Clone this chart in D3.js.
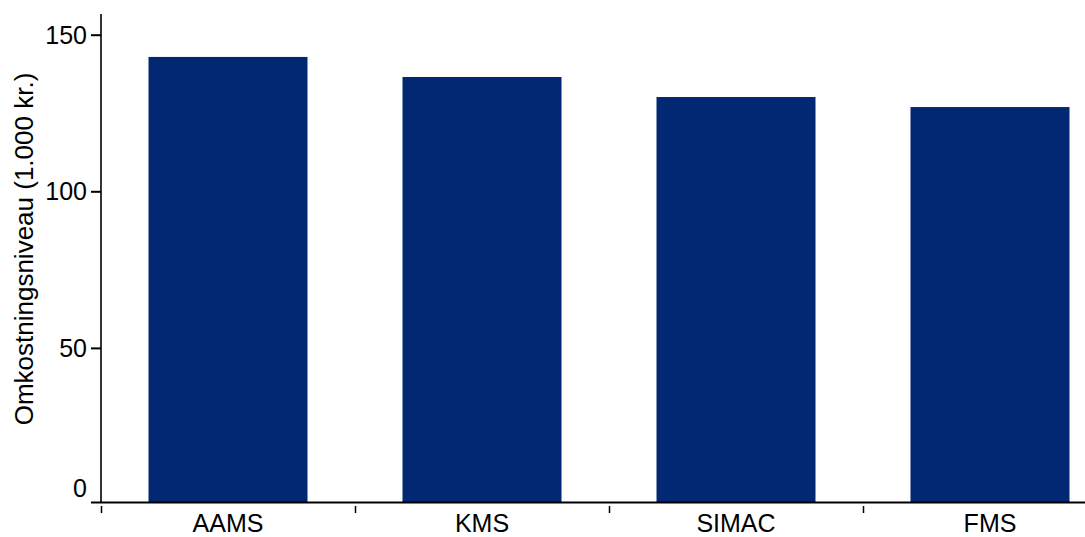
<!DOCTYPE html>
<html>
<head>
<meta charset="utf-8">
<script src="https://cdn.jsdelivr.net/npm/d3@7"></script>
<style>
  html, body { margin: 0; padding: 0; background: #fff; }
  svg { display: block; }
  text { font-family: "Liberation Sans", Arial, sans-serif; fill: #000; }
</style>
</head>
<body>
<svg id="chart" width="1085" height="537"></svg>
<script>
const categories = ["AAMS", "KMS", "SIMAC", "FMS"];
const values = [142.9, 136.5, 130.1, 126.9];
const yTicks = [0, 50, 100, 150];
const yTitle = "Omkostningsniveau (1.000 kr.)";

const W = 1085, H = 537;
const svg = d3.select("#chart");

const axisX = 101;      // y-axis line position
const axisY = 502.5;    // x-axis line position

const x = d3.scaleBand().domain(categories).range([101, 1117]).paddingInner(0).paddingOuter(0);
const y = d3.scaleLinear().domain([0, 150]).range([504.5, 34.7]);
const barFrac = 159 / 254;

// bars
svg.append("g").selectAll("rect").data(values).enter().append("rect")
  .attr("x", (d, i) => x(categories[i]) + x.bandwidth() * (1 - barFrac) / 2)
  .attr("width", x.bandwidth() * barFrac)
  .attr("y", d => y(d))
  .attr("height", d => axisY - y(d))
  .attr("fill", "#022773");

// y axis
const yAxis = d3.axisLeft(y).tickValues(yTicks).tickSize(10).tickPadding(4).tickFormat(d3.format("d"));
const gy = svg.append("g").attr("transform", `translate(${axisX},0)`).call(yAxis);
gy.select(".domain").remove();
gy.selectAll(".tick line").attr("stroke", "#000").attr("stroke-width", 2)
  .filter(d => d === 0).remove();
gy.selectAll(".tick text").attr("font-size", 25).attr("font-family", "Liberation Sans, Arial, sans-serif")
  .attr("dy", d => d === 0 ? "-0.34em" : "0.34em");
svg.append("line").attr("x1", axisX).attr("x2", axisX).attr("y1", 14).attr("y2", axisY)
  .attr("stroke", "#000").attr("stroke-width", 1.6);

// x axis
svg.append("line").attr("x1", 91).attr("x2", W).attr("y1", axisY).attr("y2", axisY)
  .attr("stroke", "#000").attr("stroke-width", 2);
const boundaries = categories.map(c => x(c));
svg.append("g").selectAll("line").data(boundaries).enter().append("line")
  .attr("x1", d => d + 0.5).attr("x2", d => d + 0.5)
  .attr("y1", 506).attr("y2", 513)
  .attr("stroke", "#000").attr("stroke-width", 1.5);
svg.append("g").selectAll("text").data(categories).enter().append("text")
  .attr("x", d => x(d) + x.bandwidth() / 2)
  .attr("y", 532)
  .attr("text-anchor", "middle")
  .attr("font-size", 25)
  .text(d => d);

// y title
svg.append("text")
  .attr("transform", "translate(33,249) rotate(-90)")
  .attr("text-anchor", "middle")
  .attr("font-size", 26)
  .text(yTitle);
</script>
</body>
</html>
